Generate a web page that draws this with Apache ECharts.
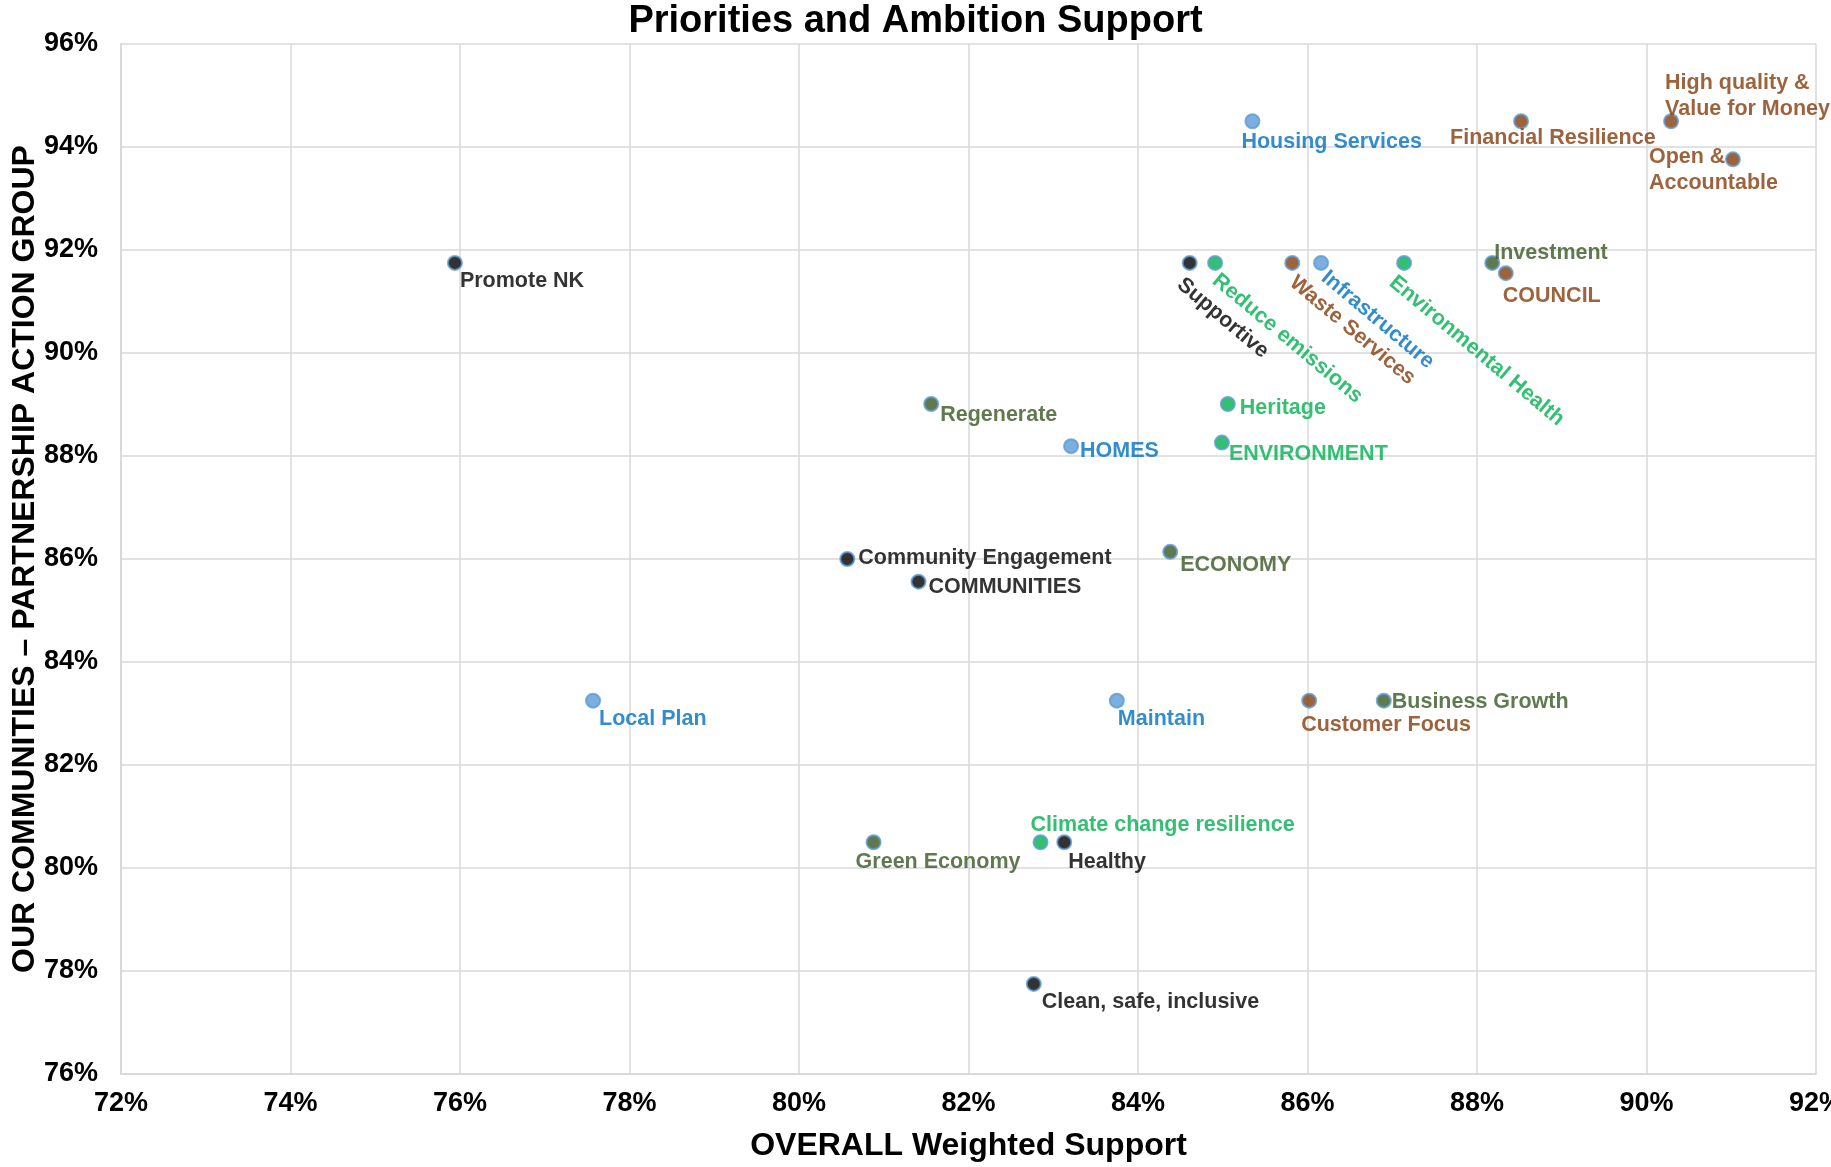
<!DOCTYPE html>
<html>
<head>
<meta charset="utf-8">
<script src="https://cdn.jsdelivr.net/npm/echarts@6/dist/echarts.min.js"></script>
<style>
html,body{margin:0;padding:0;background:#fff;}
#chart{width:1831px;height:1167px;}
</style>
</head>
<body>
<div id="chart"></div>
<script>
// ---- Data ----
const names = [
  "Promote NK","Housing Services","Financial Resilience","High quality &\nValue for Money","Open &\nAccountable",
  "Supportive","Reduce emissions","Waste Services","Infrastructure","Environmental Health",
  "Investment","COUNCIL","Regenerate","HOMES","Heritage","ENVIRONMENT",
  "Community Engagement","COMMUNITIES","ECONOMY","Local Plan","Maintain","Customer Focus","Business Growth",
  "Green Economy","Climate change resilience","Healthy","Clean, safe, inclusive"
];
const overall = [
  75.94, 85.35, 88.52, 90.29, 91.02,
  84.61, 84.91, 85.82, 86.16, 87.14,
  88.18, 88.34, 81.56, 83.21, 85.06, 84.99,
  80.57, 81.41, 84.38, 77.57, 83.75, 86.02, 86.90,
  80.88, 82.85, 83.13, 82.77
];
const partnership = [
  91.75, 94.50, 94.50, 94.50, 93.76,
  91.75, 91.75, 91.75, 91.75, 91.75,
  91.75, 91.55, 89.01, 88.19, 89.01, 88.26,
  86.00, 85.56, 86.14, 83.25, 83.25, 83.25, 83.25,
  80.50, 80.50, 80.50, 77.75
];
const groups = [
  "black","blue","brown","brown","brown",
  "black","green","brown","blue","green",
  "dark","brown","dark","blue","green","green",
  "black","black","dark","blue","blue","brown","dark",
  "dark","green","black","black"
];
const xTicks = [72,74,76,78,80,82,84,86,88,90,92];
const yTicks = [76,78,80,82,84,86,88,90,92,94,96];

// ---- Styles ----
const markerColor = {black:"#000000", blue:"#5B9BD5", brown:"#843C0C", green:"#00B050", dark:"#385723"};
const labelColor  = {black:"#000000", blue:"#0070C0", brown:"#843C0C", green:"#00B050", dark:"#385723"};
// label anchor (left-middle) offset from point, and rotation
const labelLayout = {
  "Promote NK":[5,18,0],
  "Housing Services":[-11,21,0],
  "Financial Resilience":[-71,17,0],
  "High quality &\nValue for Money":[-6,-25,0],
  "Open &\nAccountable":[-84,11,0],
  "Supportive":[-10,19,-40],
  "Reduce emissions":[0,15,-40],
  "Waste Services":[0,17,-40],
  "Infrastructure":[3,12,-40],
  "Environmental Health":[-12,17,-40],
  "Investment":[2,-10,0],
  "COUNCIL":[-3,23,0],
  "Regenerate":[9,11,0],
  "HOMES":[9,5,0],
  "Heritage":[12,4,0],
  "ENVIRONMENT":[7,11,0],
  "Community Engagement":[11,-1,0],
  "COMMUNITIES":[10,5,0],
  "ECONOMY":[10,13,0],
  "Local Plan":[6,18,0],
  "Maintain":[1,18,0],
  "Customer Focus":[-8,24,0],
  "Business Growth":[8,1,0],
  "Green Economy":[-18,20,0],
  "Climate change resilience":[-10,-17,0],
  "Healthy":[4,20,0],
  "Clean, safe, inclusive":[8,18,0]
};

const FONT = "'Liberation Sans', Arial, sans-serif";
const data = names.map((n,i)=>{
  const g = groups[i];
  return {
    name:n,
    value:[overall[i], partnership[i]],
    itemStyle:{color:markerColor[g], borderColor:"#5B9BD5", borderWidth:2},
    label:{
      show:true, formatter:n,
      align:'left', verticalAlign:'middle',
      color:labelColor[g], fontSize:21.5, fontWeight:'bold', fontFamily:FONT,
      lineHeight:26
    }
  };
});

const chart = echarts.init(document.getElementById('chart'), null, {renderer:'canvas'});
chart.setOption({
  animation:false,
  backgroundColor:'#fff',
  title:{
    text:'Priorities and Ambition Support', left:'center', top:3, padding:0,
    textStyle:{fontSize:38, fontWeight:'bold', color:'#000', fontFamily:FONT}
  },
  grid:{left:121, right:15, top:44, bottom:93, containLabel:false, outerBoundsMode:'none'},
  xAxis:{
    type:'value', min:xTicks[0], max:xTicks[xTicks.length-1], interval:xTicks[1]-xTicks[0],
    name:'OVERALL Weighted Support', nameLocation:'middle', nameGap:56, nameMoveOverlap:false,
    nameTextStyle:{fontSize:32, fontWeight:'bold', color:'#000', fontFamily:FONT},
    axisLine:{show:true, lineStyle:{color:'#D9D9D9', width:2}},
    axisTick:{show:false},
    axisLabel:{formatter:'{value}%', fontSize:27, fontWeight:'bold', color:'#000', fontFamily:FONT, margin:16},
    splitLine:{show:true, lineStyle:{color:'#D9D9D9', width:1.5}}
  },
  yAxis:{
    type:'value', min:yTicks[0], max:yTicks[yTicks.length-1], interval:yTicks[1]-yTicks[0],
    name:'OUR COMMUNITIES \u2013 PARTNERSHIP ACTION GROUP', nameLocation:'middle', nameGap:80, nameMoveOverlap:false,
    nameTextStyle:{fontSize:32, fontWeight:'bold', color:'#000', fontFamily:FONT},
    axisLine:{show:true, lineStyle:{color:'#D9D9D9', width:2}},
    axisTick:{show:false},
    axisLabel:{formatter:'{value}%', fontSize:27, fontWeight:'bold', color:'#000', fontFamily:FONT, margin:23},
    splitLine:{show:true, lineStyle:{color:'#D9D9D9', width:1.5}}
  },
  series:[{
    type:'scatter', symbol:'circle', symbolSize:14, data:data,
    labelLayout:function(p){
      const L = labelLayout[names[p.dataIndex]];
      const cx = p.rect.x + p.rect.width/2;
      const cy = p.rect.y + p.rect.height/2;
      return {x:cx + L[0], y:cy + L[1], rotate:L[2], align:'left', verticalAlign:'middle', hideOverlap:false};
    }
  }]
});
</script>
</body>
</html>
